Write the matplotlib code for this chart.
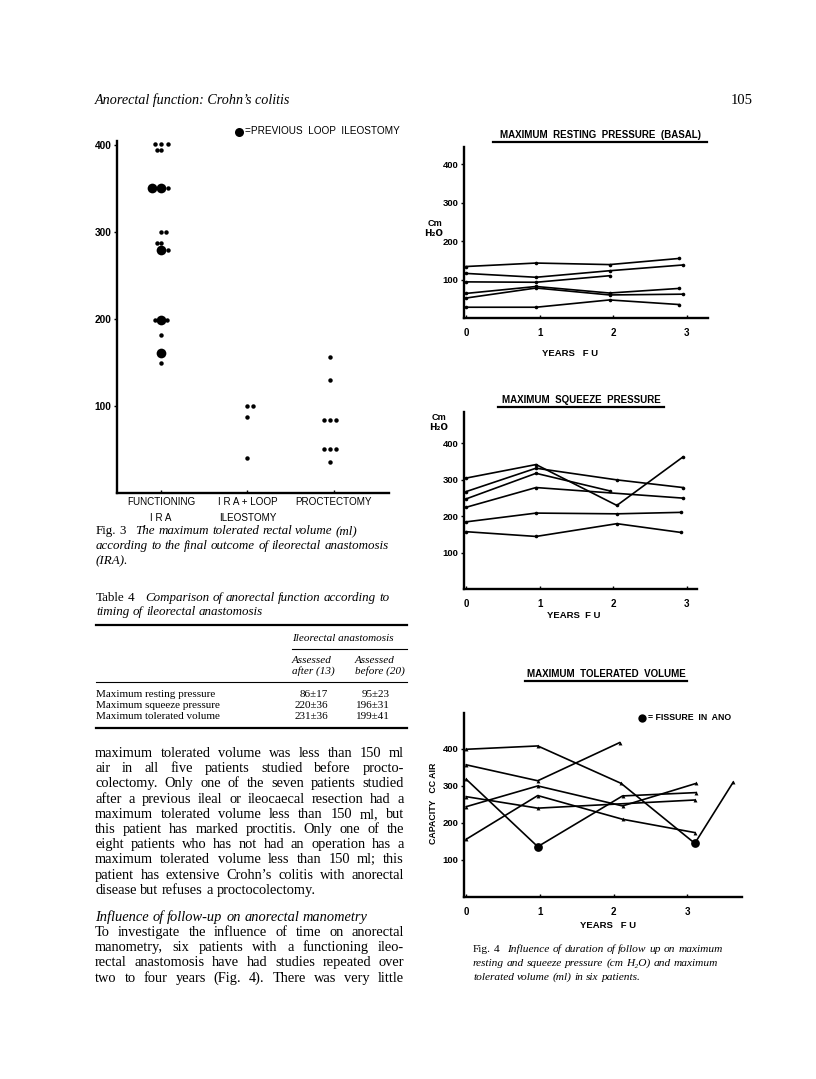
import matplotlib.pyplot as plt

W, H = 816, 1079

# ---- Fig. 3: maximum tolerated rectal volume (ml) by final outcome ----
fig3_groups = ["FUNCTIONING\nI R A", "I R A + LOOP\nILEOSTOMY", "PROCTECTOMY"]
# functioning IRA: volume, slot within the dot cluster, previous loop ileostomy (1 = big dot)
ira_vol = [402, 402, 402, 395, 395, 351, 351, 351, 300, 300, 288, 288, 280, 280, 199, 199, 199, 182, 161, 150]
ira_slot = [-1, 0, 1, -0.7, 0, -1.4, 0, 1, 0, 0.8, -0.7, 0, 0, 1, -1, 0, 0.9, 0, 0, 0]
ira_loop = [0, 0, 0, 0, 0, 1, 1, 0, 0, 0, 0, 0, 1, 0, 0, 1, 0, 0, 1, 0]
loop_vol = [100, 100, 87, 40]
loop_slot = [-0.1, 0.8, -0.1, -0.1]
proct_vol = [157, 130, 84, 84, 84, 51, 51, 51, 36]
proct_slot = [-0.5, -0.5, -1.5, -0.6, 0.3, -1.5, -0.6, 0.3, -0.6]

# ---- Fig. 4: six patients followed up (years) ----
rest_t = [[0, .95, 1.95, 2.9], [0, .95, 1.95, 2.95], [0, .95, 1.95],
          [0, .95, 1.95, 2.9], [0, .95, 1.95, 2.95], [0, .95, 1.95, 2.9]]
rest_v = [[134, 143, 139, 155], [116, 106, 123, 138], [94, 93, 110],
          [64, 82, 65, 77], [52, 78, 60, 62], [28, 28, 47, 35]]

sqz_t = [[0, .95, 2.05, 2.95], [0, .95, 2.05, 2.95], [0, .95, 1.95],
         [0, .95, 2.95], [0, .95, 2.05, 2.92], [0, .95, 2.05, 2.92]]
sqz_v = [[304, 341, 229, 362], [267, 331, 299, 278], [247, 317, 269],
         [224, 278, 249], [184, 208, 206, 210], [157, 144, 179, 155]]

vol_t = [[0, .97, 2.1, 3.1, 3.62], [0, .97, 2.08], [0, .97, 2.12, 3.12],
         [0, .97, 3.1], [0, .97, 2.12, 3.12], [0, .97, 2.12, 3.1]]
vol_v = [[399, 408, 307, 145, 310], [357, 314, 417], [318, 136, 273, 282],
         [271, 240, 262], [244, 300, 246, 307], [156, 274, 210, 174]]
vol_fissure = [[3], [], [1], [], [], []]   # visits with fissure in ano

year_ticks = [0, 1, 2, 3]

plt.rcParams['font.family'] = ['Liberation Serif', 'DejaVu Serif']
SANS = ['Liberation Sans', 'DejaVu Sans']

fig = plt.figure(figsize=(W / 100, H / 100), dpi=100)
page = fig.add_axes([0, 0, 1, 1])
page.set_xlim(0, W)
page.set_ylim(H, 0)
page.axis('off')
renderer = fig.canvas.get_renderer()


def box(x0, y0, x1, y1):
    return fig.add_axes([x0 / W, 1 - y1 / H, (x1 - x0) / W, (y1 - y0) / H])


def style_axes(ax, xpad=7):
    for s in ['top', 'right']:
        ax.spines[s].set_visible(False)
    for s in ['left', 'bottom']:
        ax.spines[s].set_linewidth(1.7)
    ax.patch.set_visible(False)
    ax.tick_params(axis='y', direction='out', length=2.5, width=1, pad=1.5)
    ax.tick_params(axis='x', direction='in', length=2.5, width=1, pad=xpad)


def put_line(y, segs, x0, x1=None, size=10.4, gap=0):
    # one line of type; justified between x0 and x1 if x1 is given
    arts, widths = [], []
    for i, (txt, st) in enumerate(segs):
        for w in txt.split():
            t = page.text(0, y, w, fontsize=size, style=st, va='baseline', ha='left')
            arts.append(t)
            widths.append(t.get_window_extent(renderer).width)
        if i == 0 and len(segs) > 1:
            widths[-1] += gap
    space = 0.25 * size * 100 / 72
    if x1 is not None and len(arts) > 1:
        space = (x1 - x0 - sum(widths)) / (len(arts) - 1)
    x = x0
    for t, wd in zip(arts, widths):
        t.set_x(x)
        x += wd + space


def sans(x, y, s, size=6.8, **kw):
    page.text(x, y, s, fontsize=size, family=SANS, fontweight='bold', va='center', **kw)


# ---------------- header ----------------
page.text(95, 104, "Anorectal function: Crohn\u2019s colitis", style='italic', fontsize=10.2, va='baseline')
page.text(753, 104, "105", fontsize=10.5, va='baseline', ha='right')

# ---------------- Fig. 3 ----------------
ax3 = box(117, 141, 389, 493)
style_axes(ax3, xpad=3)
step = 0.075
for vals, slots, pos in [(loop_vol, loop_slot, 2), (proct_vol, proct_slot, 3)]:
    ax3.plot([pos + s * step for s in slots], vals, 'o', color='k', ms=3.2, mew=0)
small = [i for i in range(len(ira_vol)) if not ira_loop[i]]
big = [i for i in range(len(ira_vol)) if ira_loop[i]]
ax3.plot([1 + ira_slot[i] * step for i in small], [ira_vol[i] for i in small], 'o', color='k', ms=3.2, mew=0)
ax3.plot([1 + ira_slot[i] * step for i in big], [ira_vol[i] for i in big], 'o', color='k', ms=7, mew=0)
ax3.set_xlim(0.49, 3.64)
ax3.set_ylim(0, 405)
ax3.set_yticks([100, 200, 300, 400])
ax3.set_yticklabels(['100', '200', '300', '400'], family=SANS, fontweight='bold', fontsize=7.3)
ax3.set_xticks([1, 2, 3])
ax3.set_xticklabels(fig3_groups, family=SANS, fontsize=7.1, linespacing=1.7, va='top')
page.plot([239], [131.5], 'o', color='k', ms=6.5, mew=0)
page.text(245, 131.5, "=PREVIOUS  LOOP  ILEOSTOMY", family=SANS, fontsize=7.2, va='center')

put_line(534, [("Fig. 3", 'normal'), ("The maximum tolerated rectal volume (ml)", 'italic')], 96, size=9.4, gap=6)
put_line(549, [("according to the final outcome of ileorectal anastomosis", 'italic')], 96, size=9.4)
put_line(564, [("(IRA).", 'italic')], 96, size=9.4)

# ---------------- Table 4 ----------------
put_line(601, [("Table 4", 'normal'), ("Comparison of anorectal function according to", 'italic')], 96, size=9.4, gap=7)
put_line(615, [("timing of ileorectal anastomosis", 'italic')], 96, size=9.4)
page.plot([96, 407], [625, 625], color='k', lw=1.6)
page.text(292, 641, "Ileorectal anastomosis", style='italic', fontsize=8, va='baseline')
page.plot([292, 407], [649, 649], color='k', lw=0.8)
page.text(292, 663, "Assessed", style='italic', fontsize=8, va='baseline')
page.text(292, 674, "after (13)", style='italic', fontsize=8, va='baseline')
page.text(355, 663, "Assessed", style='italic', fontsize=8, va='baseline')
page.text(355, 674, "before (20)", style='italic', fontsize=8, va='baseline')
page.plot([96, 407], [682, 682], color='k', lw=0.8)
rows = ["Maximum resting pressure", "Maximum squeeze pressure", "Maximum tolerated volume"]
after_13 = ["86\u00b117", "220\u00b136", "231\u00b136"]
before_20 = ["95\u00b123", "196\u00b131", "199\u00b141"]
for i, r in enumerate(rows):
    yb = 697 + 11 * i
    page.text(96, yb, r, fontsize=8, va='baseline')
    page.text(328, yb, after_13[i], fontsize=8, va='baseline', ha='right')
    page.text(390, yb, before_20[i], fontsize=8, va='baseline', ha='right')
page.plot([96, 407], [728, 728], color='k', lw=1.6)

# ---------------- body text ----------------
body = [
    "maximum tolerated volume was less than 150 ml",
    "air in all five patients studied before procto-",
    "colectomy. Only one of the seven patients studied",
    "after a previous ileal or ileocaecal resection had a",
    "maximum tolerated volume less than 150 ml, but",
    "this patient has marked proctitis. Only one of the",
    "eight patients who has not had an operation has a",
    "maximum tolerated volume less than 150 ml; this",
    "patient has extensive Crohn\u2019s colitis with anorectal",
]
yb = 757
for ln in body:
    put_line(yb, [(ln, 'normal')], 95, 404)
    yb += 15.2
put_line(yb, [("disease but refuses a proctocolectomy.", 'normal')], 95)
put_line(921, [("Influence of follow-up on anorectal manometry", 'italic')], 95)
body2 = [
    "To investigate the influence of time on anorectal",
    "manometry, six patients with a functioning ileo-",
    "rectal anastomosis have had studies repeated over",
    "two to four years (Fig. 4). There was very little",
]
yb = 936
for ln in body2:
    put_line(yb, [(ln, 'normal')], 95, 404)
    yb += 15.2


# ---------------- Fig. 4 ----------------
def panel(ax, ts, vs, ymax, xmax, marker='o', ms=2.6):
    style_axes(ax)
    for t, v in zip(ts, vs):
        ax.plot(t, v, '-', color='k', lw=1.2, marker=marker, ms=ms, mew=0)
    ax.set_xlim(-0.03, xmax)
    ax.set_ylim(0, ymax)
    ax.set_yticks([100, 200, 300, 400])
    ax.set_yticklabels(['100', '200', '300', '400'], family=SANS, fontweight='bold', fontsize=6.8)
    ax.set_xticks(year_ticks)
    ax.set_xticklabels([str(y) for y in year_ticks], family=SANS, fontweight='bold', fontsize=7)


def title(x0, x1, y, s):
    sans((x0 + x1) / 2, y, s, size=7, ha='center')
    page.plot([x0, x1], [y + 6.5, y + 6.5], color='k', lw=1.6)


# resting pressure
axr = box(464, 147, 708, 318)
panel(axr, rest_t, rest_v, 445, 3.29)
title(493, 707, 135, "MAXIMUM  RESTING  PRESSURE  (BASAL)")
sans(435, 224, "Cm", size=6.6, ha='center')
page.text(434, 234, "H\u2082O", fontsize=6.4, family=['DejaVu Sans'], fontweight='bold', va='center', ha='center')
sans(570, 353, "YEARS   F U", ha='center')

# squeeze pressure
axs = box(464, 412, 697, 589)
panel(axs, sqz_t, sqz_v, 485, 3.14)
title(498, 664, 400, "MAXIMUM  SQUEEZE  PRESSURE")
sans(439, 417, "Cm", size=6.6, ha='center')
page.text(439, 428, "H\u2082O", fontsize=6.4, family=['DejaVu Sans'], fontweight='bold', va='center', ha='center')
sans(574, 616, "YEARS  F U", ha='center')

# tolerated volume
axv = box(464, 713, 742, 897)
panel(axv, vol_t, vol_v, 497, 3.74, marker='^', ms=2.8)
for t, v, f in zip(vol_t, vol_v, vol_fissure):
    if f:
        axv.plot([t[i] for i in f], [v[i] for i in f], 'o', color='k', ms=6.3, mew=0)
title(525, 687, 674, "MAXIMUM  TOLERATED  VOLUME")
page.plot([642], [718], 'o', color='k', ms=6, mew=0)
sans(648, 718, "= FISSURE  IN  ANO", size=6.3)
page.text(433, 803, "CAPACITY   CC AIR", family=SANS, fontweight='bold', fontsize=6.3,
          rotation=90, va='center', ha='center')
sans(608, 926, "YEARS   F U", ha='center')

put_line(952, [("Fig. 4", 'normal'), ("Influence of duration of follow up on maximum", 'italic')], 473, size=8.2, gap=5)
put_line(966, [("resting and squeeze pressure (cm H\u2082O) and maximum", 'italic')], 473, size=8.2)
put_line(980, [("tolerated volume (ml) in six patients.", 'italic')], 473, size=8.2)

fig.savefig("out.png", dpi=100)
